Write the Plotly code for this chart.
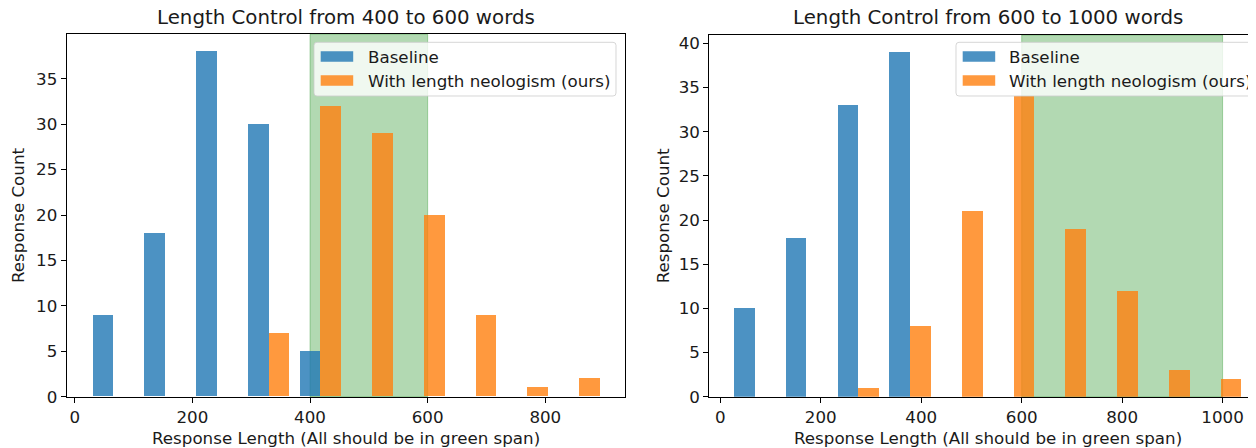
import plotly.graph_objects as go

# ---------------- data ----------------
titles = ["Length Control from 400 to 600 words", "Length Control from 600 to 1000 words"]
x_label = "Response Length (All should be in green span)"
y_label = "Response Count"
series_names = ["Baseline", "With length neologism (ours)"]

# histogram bin edges (shared by both series in each panel)
edges_400_600 = [21, 109, 197, 285, 373, 461, 549, 637, 725, 813, 901]
baseline_400_600 = [9, 18, 38, 30, 5, 0, 0, 0, 0, 0]
ours_400_600 = [0, 0, 0, 7, 32, 29, 20, 9, 1, 2]

edges_600_1000 = [17.5, 120.6, 223.7, 326.8, 429.9, 533.0, 636.1, 739.2, 842.3, 945.4, 1048.5]
baseline_600_1000 = [10, 18, 33, 39, 0, 0, 0, 0, 0, 0]
ours_600_1000 = [0, 0, 1, 8, 21, 34, 19, 12, 3, 2]

target_400_600 = [400, 600]
target_600_1000 = [600, 1000]

xticks_left = [0, 200, 400, 600, 800]
xticks_right = [0, 200, 400, 600, 800, 1000]
yticks_left = [0, 5, 10, 15, 20, 25, 30, 35]
yticks_right = [0, 5, 10, 15, 20, 25, 30, 35, 40]

# ---------------- styling / layout ----------------
# the page body adds an 8px margin, so the figure is drawn 8px smaller and
# all pixel positions below are given in window coordinates.
OFF = 8
W, H = 1256 - OFF, 448 - OFF
FONT = "DejaVu Sans"
FS = 16.7
BLUE = "rgba(31,119,180,0.8)"
ORANGE = "rgba(255,127,14,0.8)"
GREEN = "rgba(0,128,0,0.3)"
TXT = "#1a1a1a"


def px(x):
    return (x - OFF) / W


def py(y):
    return 1 - (y - OFF) / H


def hist_bars(edges):
    """matplotlib-style side-by-side histogram bar positions (rwidth 0.8 split in two)."""
    lefts = edges[:-1]
    widths = [edges[i + 1] - edges[i] for i in range(len(lefts))]
    xa = [l + 0.3 * w for l, w in zip(lefts, widths)]
    xb = [l + 0.7 * w for l, w in zip(lefts, widths)]
    bw = [0.4 * w for w in widths]
    return xa, xb, bw


fig = go.Figure()

panels = [
    (edges_400_600, baseline_400_600, ours_400_600, "x", "y"),
    (edges_600_1000, baseline_600_1000, ours_600_1000, "x2", "y2"),
]
for edges, base, ours, xa_ref, ya_ref in panels:
    xa, xb, bw = hist_bars(edges)
    fig.add_trace(go.Bar(x=xa, y=base, width=bw, name=series_names[0],
                         marker=dict(color=BLUE, line=dict(width=0)),
                         xaxis=xa_ref, yaxis=ya_ref, showlegend=False))
    fig.add_trace(go.Bar(x=xb, y=ours, width=bw, name=series_names[1],
                         marker=dict(color=ORANGE, line=dict(width=0)),
                         xaxis=xa_ref, yaxis=ya_ref, showlegend=False))

axis_common = dict(showgrid=False, zeroline=False, showline=True, linecolor="black",
                   linewidth=1.2, ticks="outside", ticklen=5, tickwidth=1.2, tickcolor="black",
                   automargin=False, ticklabelstandoff=0,
                   tickfont=dict(family=FONT, size=FS, color=TXT))

# pixel geometry of the two plot areas (window pixels)
L1, R1, T1, B1 = 66.7, 625.3, 34.3, 396.7
L2, R2, T2, B2 = 709.3, 1256.0, 35.0, 396.7

fig.update_layout(
    width=W, height=H, margin=dict(l=0, r=0, t=0, b=0, autoexpand=False),
    paper_bgcolor="white", plot_bgcolor="white",
    barmode="overlay", bargap=0,
    font=dict(family=FONT, size=FS, color=TXT),
    xaxis=dict(domain=[px(L1), px(R1)], range=[-13.6, 936], tickvals=xticks_left,
               mirror=True, anchor="y", **axis_common),
    yaxis=dict(domain=[py(B1), py(T1)], range=[0, 39.9], tickvals=yticks_left,
               mirror=True, anchor="x", **axis_common),
    xaxis2=dict(domain=[px(L2), 1.0], range=[-21.9, 1066.5], tickvals=xticks_right,
                mirror=True, anchor="y2", **axis_common),
    yaxis2=dict(domain=[py(B2), py(T2)], range=[0, 40.95], tickvals=yticks_right,
                mirror=False, anchor="x2", **axis_common),
)

shapes = []
# green target spans
for (a, b), xr, yr in [(target_400_600, "x", "y domain"), (target_600_1000, "x2", "y2 domain")]:
    shapes.append(dict(type="rect", xref=xr, yref=yr, x0=a, x1=b, y0=0, y1=1,
                       fillcolor=GREEN, line=dict(color=GREEN, width=1), layer="below"))


def rounded_rect(x0, y0, x1, y1, r=3):
    # pixel coords -> paper path
    return (f"M {px(x0 + r)},{py(y0)} L {px(x1 - r)},{py(y0)} "
            f"Q {px(x1)},{py(y0)} {px(x1)},{py(y0 + r)} L {px(x1)},{py(y1 - r)} "
            f"Q {px(x1)},{py(y1)} {px(x1 - r)},{py(y1)} L {px(x0 + r)},{py(y1)} "
            f"Q {px(x0)},{py(y1)} {px(x0)},{py(y1 - r)} L {px(x0)},{py(y0 + r)} "
            f"Q {px(x0)},{py(y0)} {px(x0 + r)},{py(y0)} Z")


annotations = []
legend_specs = [(314, 616, 320.7, 368.3), (956, 1258, 962.7, 1009.3)]
for lx0, lx1, patch_x, text_x in legend_specs:
    shapes.append(dict(type="path", xref="paper", yref="paper",
                       path=rounded_rect(lx0, 42.3, lx1, 96.0),
                       fillcolor="rgba(255,255,255,0.8)",
                       line=dict(color="rgba(204,204,204,0.8)", width=1), layer="above"))
    for row_y, col, name in [(56.5, BLUE, series_names[0]), (80.5, ORANGE, series_names[1])]:
        shapes.append(dict(type="rect", xref="paper", yref="paper",
                           x0=px(patch_x), x1=px(patch_x + 32.5),
                           y0=py(row_y + 5.3), y1=py(row_y - 5.3),
                           fillcolor=col, line=dict(width=0), layer="above"))
        annotations.append(dict(text=name, xref="paper", yref="paper",
                                x=px(text_x - 2), y=py(row_y), xanchor="left", yanchor="middle",
                                showarrow=False, font=dict(family=FONT, size=FS, color=TXT)))

# titles and axis labels (right panel's axes extend just past the picture edge)
centers = [(L1 + R1) / 2, (L2 + 1266.7) / 2]
for c, t in zip(centers, titles):
    annotations.append(dict(text=t, xref="paper", yref="paper", x=px(c), y=py(18),
                            xanchor="center", yanchor="middle", showarrow=False,
                            font=dict(family=FONT, size=19.8, color=TXT)))
    annotations.append(dict(text=x_label, xref="paper", yref="paper", x=px(c), y=py(437.5),
                            xanchor="center", yanchor="middle", showarrow=False,
                            font=dict(family=FONT, size=FS, color=TXT)))

for xpos, (t, b) in [(17.5, (T1, B1)), (662.5, (T2, B2))]:
    annotations.append(dict(text=y_label, xref="paper", yref="paper", x=px(xpos),
                            y=py((t + b) / 2), xanchor="center", yanchor="middle",
                            textangle=-90, showarrow=False,
                            font=dict(family=FONT, size=FS, color=TXT)))

fig.update_layout(shapes=shapes, annotations=annotations)

fig.write_html("out.html")
